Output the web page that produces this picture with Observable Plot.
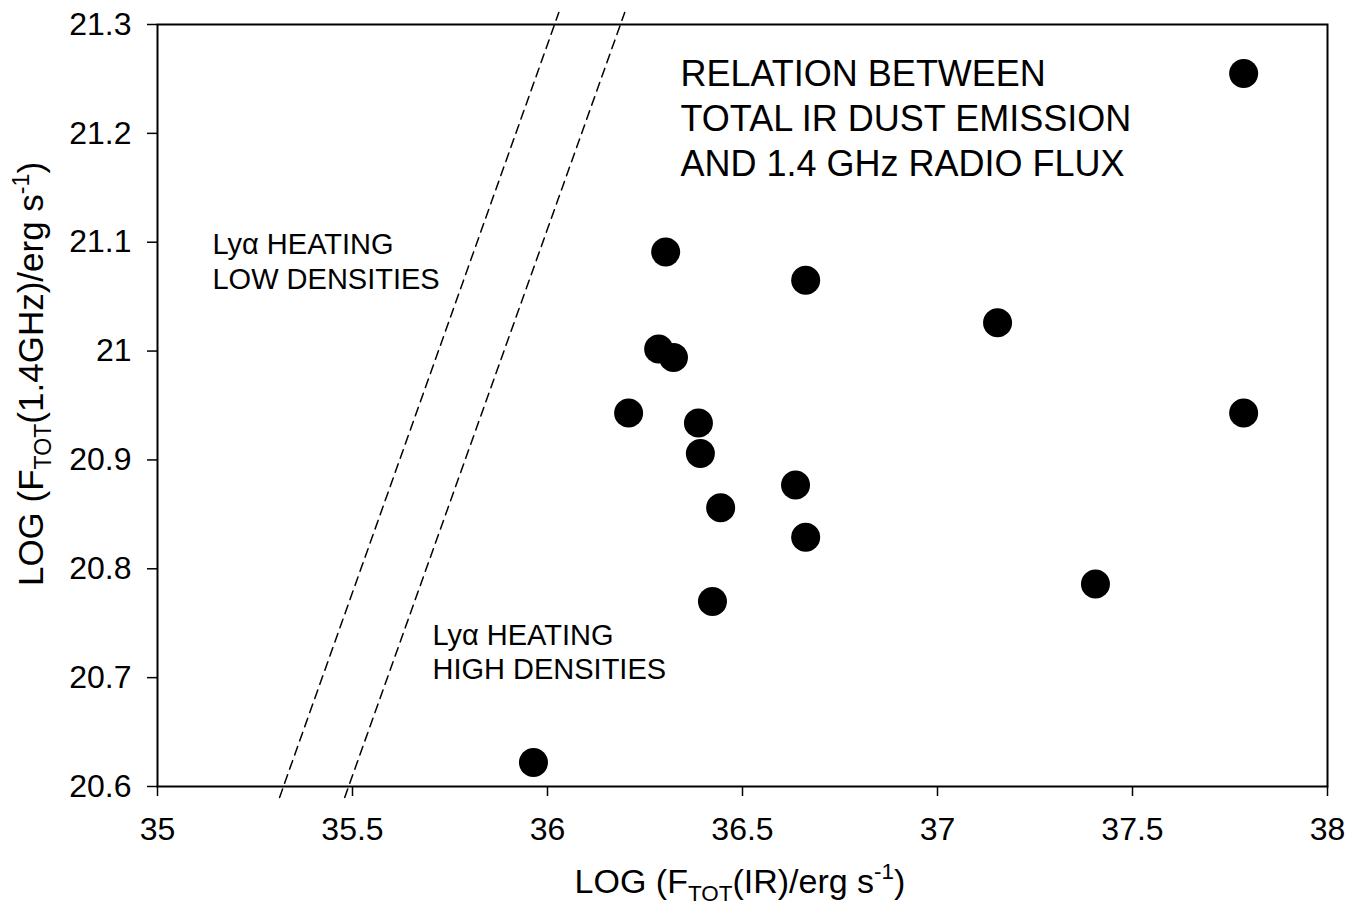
<!DOCTYPE html>
<html><head><meta charset="utf-8">
<script src="https://cdn.jsdelivr.net/npm/d3@7"></script>
<script src="https://cdn.jsdelivr.net/npm/@observablehq/plot@0.6"></script>
<style>body{margin:0;background:#fff} svg{display:block}</style>
</head><body><div id="chart"></div>
<script>
// Data: LOG F_TOT(IR) vs LOG F_TOT(1.4 GHz)
const irFlux    = [37.785, 36.303, 36.662, 37.154, 36.285, 36.323, 36.208, 37.785, 36.387, 36.392, 36.636, 36.444, 36.662, 36.423, 37.405, 35.964];
const radioFlux = [21.255, 21.091, 21.065, 21.026, 21.002, 20.994, 20.943, 20.943, 20.934, 20.906, 20.877, 20.856, 20.829, 20.770, 20.786, 20.622];

// Ly-alpha heating model lines
const lowDensX  = [35.313, 36.029];
const lowDensY  = [20.59, 21.311];
const highDensX = [35.480, 36.198];
const highDensY = [20.59, 21.311];

const xTicks = [35, 35.5, 36, 36.5, 37, 37.5, 38];
const yTicks = [20.6, 20.7, 20.8, 20.9, 21, 21.1, 21.2, 21.3];

const titleText = "RELATION BETWEEN\nTOTAL IR DUST EMISSION\nAND 1.4 GHz RADIO FLUX";
const lowText = "Lyα HEATING\nLOW DENSITIES";
const highText = "Lyα HEATING\nHIGH DENSITIES";

const points = irFlux.map((x, i) => ({x, y: radioFlux[i]}));
const lowLine = lowDensX.map((x, i) => ({x, y: lowDensY[i]}));
const highLine = highDensX.map((x, i) => ({x, y: highDensY[i]}));

const font = "'Liberation Sans', Arial, Helvetica, sans-serif";

const chart = Plot.plot({
  width: 1361,
  height: 917,
  marginLeft: 157,
  marginRight: 34,
  marginTop: 24,
  marginBottom: 131,
  style: {fontFamily: font, fontSize: "32px", background: "#fff", color: "#000", overflow: "visible"},
  x: {domain: [35, 38], label: null},
  y: {domain: [20.6, 21.3], label: null},
  marks: [
    Plot.line(lowLine, {x: "x", y: "y", stroke: "#000", strokeWidth: 1.5, strokeDasharray: "9,6"}),
    Plot.line(highLine, {x: "x", y: "y", stroke: "#000", strokeWidth: 1.5, strokeDasharray: "9,6"}),
    Plot.frame({stroke: "#000", strokeWidth: 2}),
    Plot.axisX(xTicks, {tickSize: 10, tickPadding: 21, strokeWidth: 1.5, fontSize: 32, tickFormat: d => String(d), label: null}),
    Plot.axisY(yTicks, {tickSize: 10, tickPadding: 16, strokeWidth: 1.5, fontSize: 32, tickFormat: d => String(d), label: null}),
    Plot.dot(points, {x: "x", y: "y", r: 14.5, fill: "#000", stroke: "none"}),
    Plot.text([titleText], {x: 36.341, y: 21.2155, text: d => d, textAnchor: "start", lineAnchor: "middle", lineHeight: 1.26, fontSize: 36, fill: "#000"}),
    Plot.text([lowText], {x: 35.141, y: 21.0836, text: d => d, textAnchor: "start", lineAnchor: "middle", lineHeight: 1.22, fontSize: 29, fill: "#000"}),
    Plot.text([highText], {x: 35.705, y: 20.7245, text: d => d, textAnchor: "start", lineAnchor: "middle", lineHeight: 1.18, fontSize: 29, fill: "#000"})
  ]
});

document.getElementById("chart").appendChild(chart);

// Axis titles with sub/superscripts
const svg = d3.select(chart);
function addTitle(g, parts, base) {
  const t = g.append("text").attr("text-anchor", "middle").attr("font-family", font).attr("font-size", base).attr("fill", "#000");
  let shift = 0;
  for (const [s, kind] of parts) {
    const sp = t.append("tspan").text(s);
    let target = 0, size = base;
    if (kind === "sub") { target = base * 0.24; size = base * 0.66; }
    if (kind === "sup") { target = -base * 0.4; size = base * 0.66; }
    sp.attr("font-size", size).attr("dy", target - shift);
    shift = target;
  }
  return t;
}
const xt = svg.append("g").attr("transform", "translate(740,893)");
addTitle(xt, [["LOG (F", ""], ["TOT", "sub"], ["(IR)/erg s", ""], ["-1", "sup"], [")", ""]], 34);
const yt = svg.append("g").attr("transform", "translate(43,374) rotate(-90)");
addTitle(yt, [["LOG (F", ""], ["TOT", "sub"], ["(1.4GHz)/erg s", ""], ["-1", "sup"], [")", ""]], 35);
</script>
</body></html>
